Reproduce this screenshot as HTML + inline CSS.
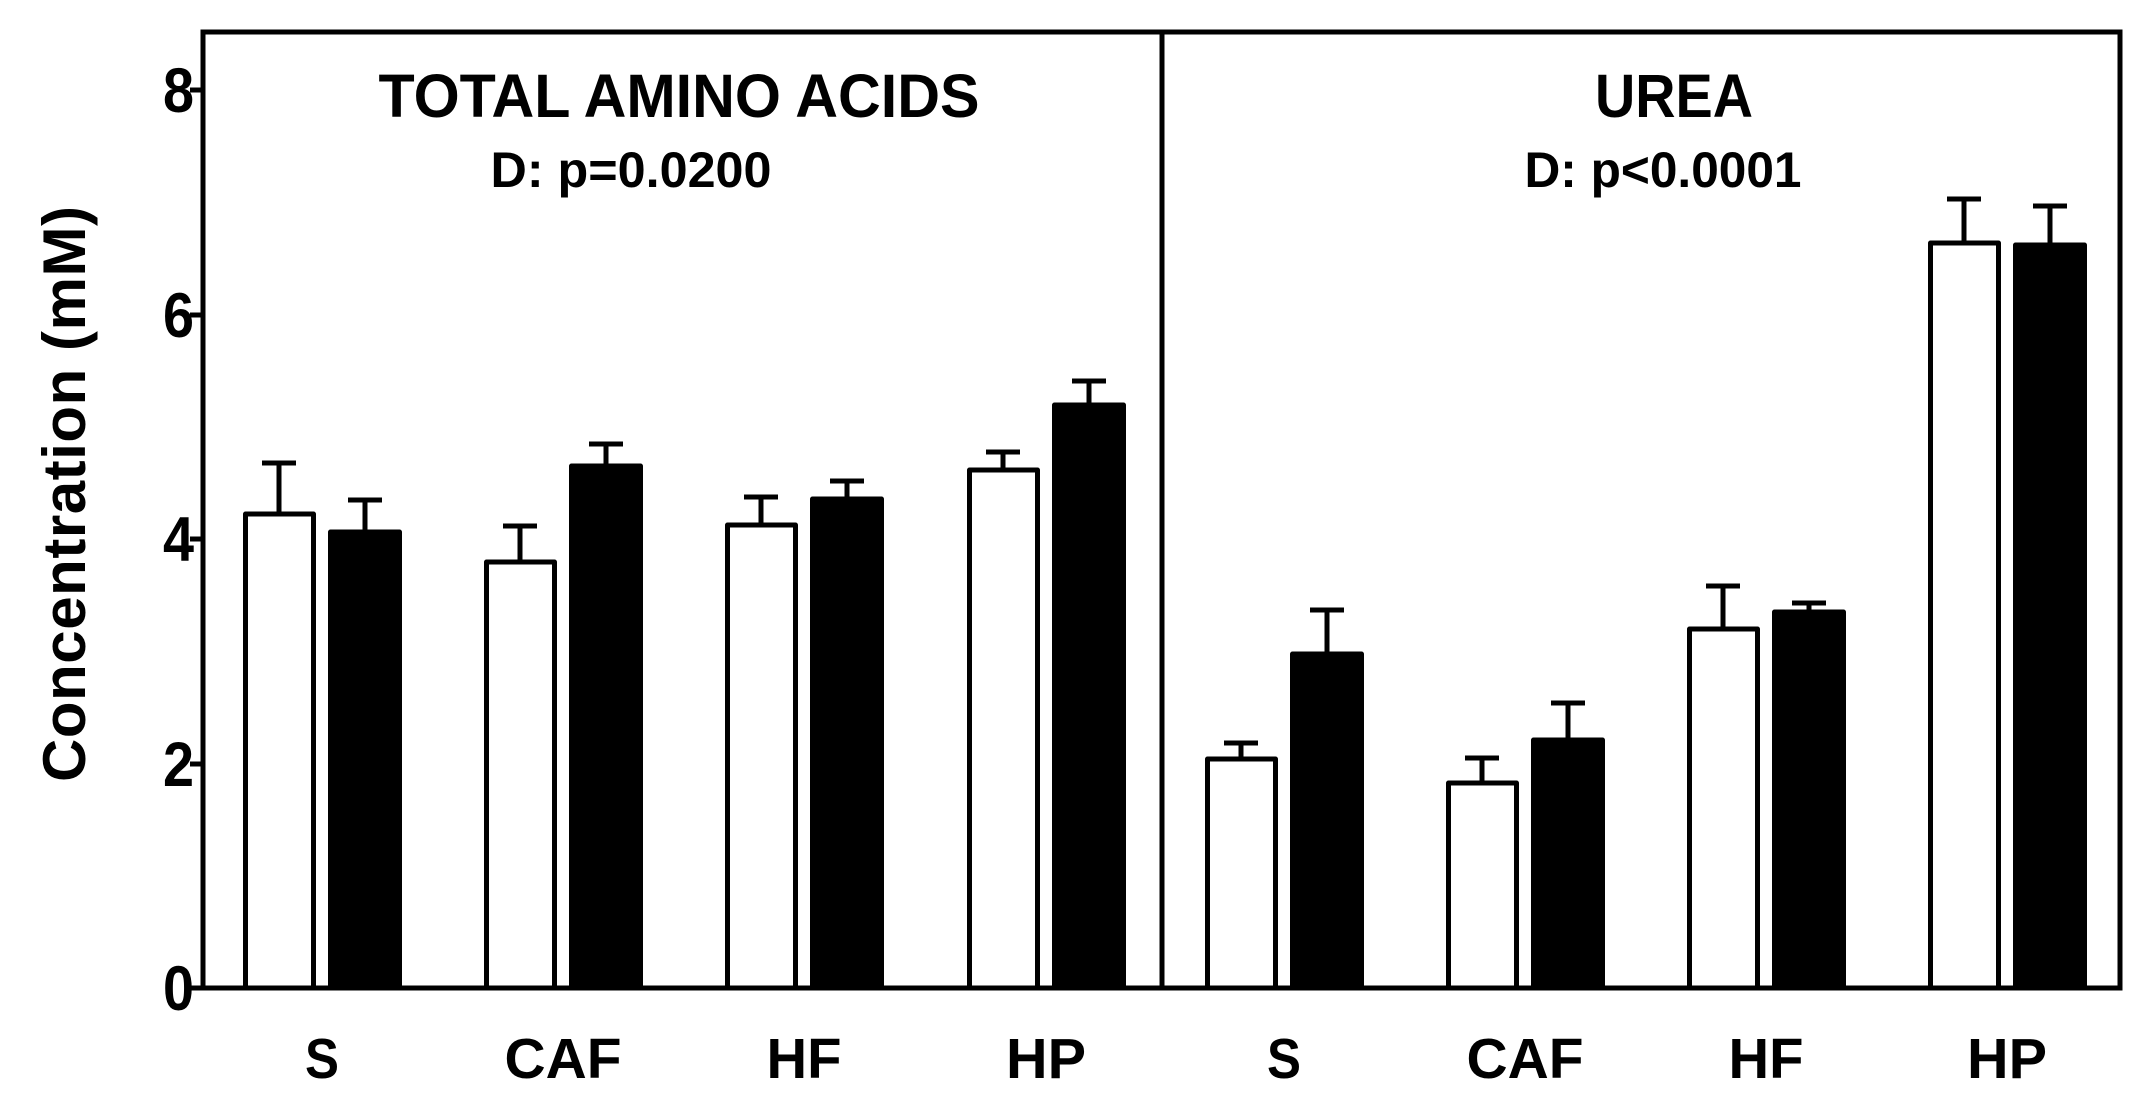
<!DOCTYPE html>
<html><head><meta charset="utf-8"><style>html,body{margin:0;padding:0;background:#fff}svg{display:block}</style></head>
<body>
<svg width="2152" height="1100" viewBox="0 0 2152 1100" xmlns="http://www.w3.org/2000/svg" font-family="'Liberation Sans Narrow','Liberation Sans',sans-serif" font-weight="bold">
<rect x="0" y="0" width="2152" height="1100" fill="#fff"/>
<g stroke="#000" stroke-width="5" fill="none">
<rect x="203" y="32" width="1917" height="956"/>
<line x1="1162" y1="32" x2="1162" y2="988"/>
<line x1="190" y1="988" x2="203" y2="988"/>
<line x1="190" y1="764" x2="203" y2="764"/>
<line x1="190" y1="539" x2="203" y2="539"/>
<line x1="190" y1="315" x2="203" y2="315"/>
<line x1="190" y1="90" x2="203" y2="90"/>
</g>
<g font-size="63" text-anchor="end">
<text x="194" y="1010" textLength="31" lengthAdjust="spacingAndGlyphs">0</text>
<text x="194" y="786" textLength="31" lengthAdjust="spacingAndGlyphs">2</text>
<text x="194" y="561" textLength="31" lengthAdjust="spacingAndGlyphs">4</text>
<text x="194" y="337" textLength="31" lengthAdjust="spacingAndGlyphs">6</text>
<text x="194" y="112" textLength="31" lengthAdjust="spacingAndGlyphs">8</text>
</g>
<text transform="translate(85,494) rotate(-90)" text-anchor="middle" font-family="'Liberation Sans',sans-serif" font-size="60" textLength="576">Concentration (mM)</text>
<g text-anchor="middle">
<text x="679" y="117" font-size="61" textLength="601" lengthAdjust="spacingAndGlyphs">TOTAL AMINO ACIDS</text>
<text x="631" y="187" font-size="50" textLength="281" lengthAdjust="spacingAndGlyphs">D: p=0.0200</text>
<text x="1674" y="117" font-size="61" textLength="158" lengthAdjust="spacingAndGlyphs">UREA</text>
<text x="1663" y="187" font-size="50" textLength="277" lengthAdjust="spacingAndGlyphs">D: p&lt;0.0001</text>
</g>
<g text-anchor="middle" font-size="57">
<text x="322" y="1078" textLength="34" lengthAdjust="spacingAndGlyphs">S</text>
<text x="563" y="1078" textLength="117" lengthAdjust="spacingAndGlyphs">CAF</text>
<text x="804" y="1078" textLength="75" lengthAdjust="spacingAndGlyphs">HF</text>
<text x="1046" y="1078" textLength="80" lengthAdjust="spacingAndGlyphs">HP</text>
<text x="1284" y="1078" textLength="34" lengthAdjust="spacingAndGlyphs">S</text>
<text x="1525" y="1078" textLength="117" lengthAdjust="spacingAndGlyphs">CAF</text>
<text x="1766" y="1078" textLength="75" lengthAdjust="spacingAndGlyphs">HF</text>
<text x="2007" y="1078" textLength="80" lengthAdjust="spacingAndGlyphs">HP</text>
</g>
<g stroke="#000" stroke-width="5" stroke-linejoin="round">
<line x1="279" y1="514" x2="279" y2="463"/><line x1="262" y1="463" x2="296" y2="463"/>
<rect x="245.5" y="514" width="68" height="474" fill="#fff"/>
<line x1="365" y1="532" x2="365" y2="500"/><line x1="348" y1="500" x2="382" y2="500"/>
<rect x="330.5" y="532" width="69" height="456" fill="#000"/>
<line x1="520" y1="562" x2="520" y2="526"/><line x1="503" y1="526" x2="537" y2="526"/>
<rect x="486.5" y="562" width="68" height="426" fill="#fff"/>
<line x1="606" y1="466" x2="606" y2="444"/><line x1="589" y1="444" x2="623" y2="444"/>
<rect x="571.5" y="466" width="69" height="522" fill="#000"/>
<line x1="761" y1="525" x2="761" y2="497"/><line x1="744" y1="497" x2="778" y2="497"/>
<rect x="727.5" y="525" width="68" height="463" fill="#fff"/>
<line x1="847" y1="499" x2="847" y2="481"/><line x1="830" y1="481" x2="864" y2="481"/>
<rect x="812.5" y="499" width="69" height="489" fill="#000"/>
<line x1="1003" y1="470" x2="1003" y2="452"/><line x1="986" y1="452" x2="1020" y2="452"/>
<rect x="969.5" y="470" width="68" height="518" fill="#fff"/>
<line x1="1089" y1="405" x2="1089" y2="381"/><line x1="1072" y1="381" x2="1106" y2="381"/>
<rect x="1054.5" y="405" width="69" height="583" fill="#000"/>
<line x1="1241" y1="759" x2="1241" y2="743"/><line x1="1224" y1="743" x2="1258" y2="743"/>
<rect x="1207.5" y="759" width="68" height="229" fill="#fff"/>
<line x1="1327" y1="654" x2="1327" y2="610"/><line x1="1310" y1="610" x2="1344" y2="610"/>
<rect x="1292.5" y="654" width="69" height="334" fill="#000"/>
<line x1="1482" y1="783" x2="1482" y2="758"/><line x1="1465" y1="758" x2="1499" y2="758"/>
<rect x="1448.5" y="783" width="68" height="205" fill="#fff"/>
<line x1="1568" y1="740" x2="1568" y2="703"/><line x1="1551" y1="703" x2="1585" y2="703"/>
<rect x="1533.5" y="740" width="69" height="248" fill="#000"/>
<line x1="1723" y1="629" x2="1723" y2="586"/><line x1="1706" y1="586" x2="1740" y2="586"/>
<rect x="1689.5" y="629" width="68" height="359" fill="#fff"/>
<line x1="1809" y1="612" x2="1809" y2="603"/><line x1="1792" y1="603" x2="1826" y2="603"/>
<rect x="1774.5" y="612" width="69" height="376" fill="#000"/>
<line x1="1964" y1="243" x2="1964" y2="199"/><line x1="1947" y1="199" x2="1981" y2="199"/>
<rect x="1930.5" y="243" width="68" height="745" fill="#fff"/>
<line x1="2050" y1="245" x2="2050" y2="206"/><line x1="2033" y1="206" x2="2067" y2="206"/>
<rect x="2015.5" y="245" width="69" height="743" fill="#000"/>
</g>
<line x1="203" y1="988" x2="2120" y2="988" stroke="#000" stroke-width="5"/>
</svg>
</body></html>
